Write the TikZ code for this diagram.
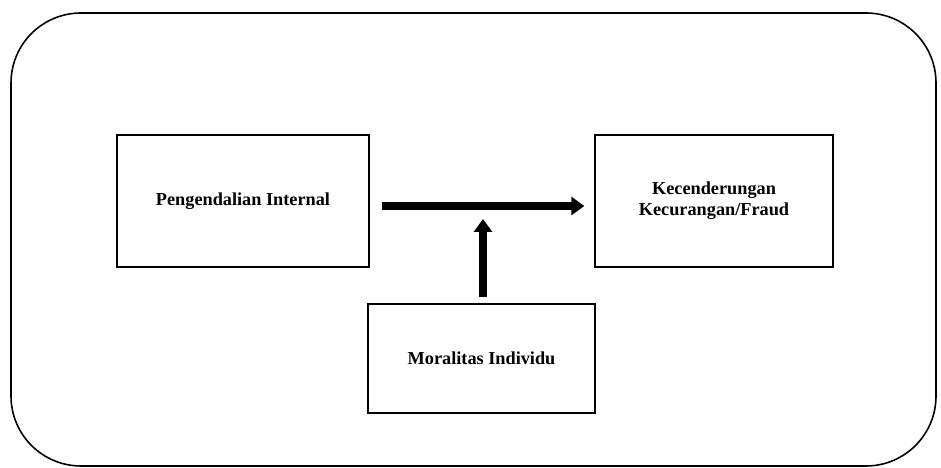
\documentclass[tikz,border=0pt]{standalone}
\usepackage{fontspec}
\setmainfont{Liberation Serif}
\usetikzlibrary{arrows.meta}
\tikzset{>=latex}
\tikzset{
  varbox/.style={draw, line width=0.8pt, align=center, inner sep=2pt,
    font=\bfseries\fontsize{10.4}{11.8}\selectfont},
  bigarrow/.style={line width=5pt, -{Triangle[length=2.6mm, width=3.6mm]}}
}

\begin{document}
\begin{tikzpicture}
\useasboundingbox (0,0) rectangle (18.82,9.36);
\draw[line width=0.9pt, rounded corners=1.4cm] (0.22,0.04) rectangle (18.72,9.10);
\node[varbox, minimum width=5.04cm, minimum height=2.64cm] (pi) at (4.86,5.34) {Pengendalian Internal};
\node[varbox, minimum width=4.76cm, minimum height=2.64cm] (kf) at (14.28,5.34) {Kecenderungan\\Kecurangan/Fraud};
\node[varbox, minimum width=4.54cm, minimum height=2.18cm] (mi) at (9.63,2.19) {Moralitas Individu};
\coordinate (mid) at (9.66,5.24);
% arrows
\draw[bigarrow, shorten <=0.24cm, shorten >=0.2cm] (pi.east |- mid) -- (kf.west |- mid);
\draw[bigarrow, shorten <=0.12cm, shorten >=0.26cm] (mid |- mi.north) -- (mid);
\end{tikzpicture}
\end{document}
